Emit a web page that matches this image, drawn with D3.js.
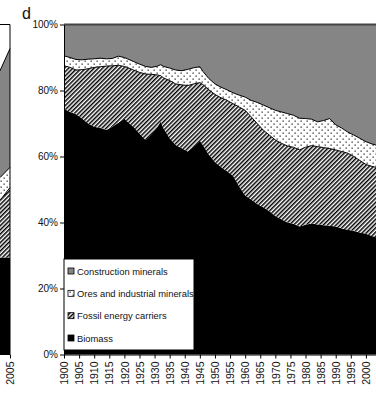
<!DOCTYPE html>
<html>
<head>
<meta charset="UTF-8">
<title>Material use shares</title>
<script src="https://d3js.org/d3.v7.min.js"></script>
<style>
    body { margin: 0; padding: 0; background: #fff; }
    svg { display: block; font-family: "Liberation Sans", Arial, sans-serif; }
</style>
</head>
<body>
<svg id="chart" width="376" height="394"></svg>
<script>
// panel d: shares of total material extraction (%)
const years = [1900, 1902, 1904, 1906, 1908, 1910, 1912, 1914, 1916, 1918, 1920, 1921, 1923, 1925, 1927, 1929,
    1931, 1932, 1933, 1935, 1937, 1939, 1941, 1943, 1945, 1946, 1948, 1950, 1952, 1954, 1956, 1958, 1960, 1962,
    1964, 1966, 1968, 1970, 1972, 1974, 1976, 1978, 1980, 1982, 1984, 1986, 1988, 1990, 1992, 1994, 1996, 1998,
    2000, 2002, 2004, 2005];
const biomass = [74.5, 73.5, 72.8, 71.5, 70.0, 69.0, 68.6, 68.0, 69.0, 70.2, 71.5, 70.5, 69.0, 67.0, 65.0, 66.8,
    69.0, 70.5, 68.5, 65.5, 63.5, 62.5, 61.5, 63.0, 64.8, 63.5, 60.5, 58.3, 56.8, 55.5, 54.2, 51.0, 48.2, 47.0,
    45.6, 44.6, 43.4, 42.0, 41.0, 40.0, 39.6, 38.8, 39.3, 39.7, 39.4, 39.2, 39.0, 38.8, 38.2, 37.8, 37.4, 37.0,
    36.6, 35.9, 35.4, 35.2];
const fossil = [13.0, 13.5, 13.4, 14.8, 16.6, 18.0, 18.6, 19.4, 18.5, 17.4, 15.8, 16.5, 17.2, 18.5, 20.0, 18.1,
    15.7, 14.0, 15.3, 17.5, 18.5, 19.2, 20.0, 19.0, 17.6, 18.3, 19.7, 20.5, 21.0, 21.5, 21.8, 24.0, 25.8, 25.0,
    24.4, 23.4, 23.1, 23.0, 23.0, 23.2, 23.2, 23.2, 23.5, 23.6, 23.6, 23.5, 23.4, 23.2, 23.3, 23.2, 22.6, 21.8,
    21.0, 21.1, 21.2, 21.2];
const ores = [3.0, 3.0, 3.2, 3.0, 2.9, 2.6, 2.6, 2.2, 2.2, 2.8, 2.7, 2.6, 2.6, 2.5, 2.3, 2.1,
    2.7, 3.3, 3.5, 3.8, 4.2, 4.3, 4.9, 4.9, 4.8, 4.0, 3.4, 3.2, 3.2, 3.2, 3.3, 3.6, 4.0, 5.0,
    6.4, 7.6, 8.3, 9.0, 9.5, 9.8, 9.7, 9.6, 8.7, 8.0, 7.5, 8.2, 9.1, 7.6, 7.1, 6.4, 6.5, 6.7,
    6.9, 6.8, 6.7, 6.6];
const construction = [9.5, 10.0, 10.6, 10.7, 10.5, 10.4, 10.2, 10.4, 10.3, 9.6, 10.0, 10.4, 11.2, 12.0, 12.7, 13.0,
    12.6, 12.2, 12.7, 13.2, 13.8, 14.0, 13.6, 13.1, 12.8, 14.2, 16.4, 18.0, 19.0, 19.8, 20.7, 21.4, 22.0, 23.0,
    23.6, 24.4, 25.2, 26.0, 26.5, 27.0, 27.5, 28.4, 28.5, 28.7, 29.5, 29.1, 28.5, 30.4, 31.4, 32.6, 33.5, 34.5,
    35.5, 36.2, 36.7, 37.0];

// edge of panel c, cut off on the left
const cYears = [2003, 2004, 2005];
const cBiomass = [29.2, 29.4, 29.4];
const cFossil = [15.8, 17.3, 21.2];
const cOres = [7.0, 6.9, 6.1];
const cConstruction = [31.0, 32.4, 36.0];

const keys = ["biomass", "fossil", "ores", "construction"];
const legendLabels = ["Construction minerals", "Ores and industrial minerals", "Fossil energy carriers", "Biomass"];
const yTicks = [0, 20, 40, 60, 80, 100];
const xTicks = d3.range(1900, 2001, 5);

const svg = d3.select("#chart");
const defs = svg.append("defs");

const hatch = defs.append("pattern")
    .attr("id", "hatch")
    .attr("patternUnits", "userSpaceOnUse")
    .attr("width", 3).attr("height", 3)
    .attr("patternTransform", "rotate(45)");
hatch.append("rect").attr("width", 3).attr("height", 3).attr("fill", "#fff");
hatch.append("rect").attr("width", 1.5).attr("height", 3).attr("fill", "#000");

const dots = defs.append("pattern")
    .attr("id", "dots")
    .attr("patternUnits", "userSpaceOnUse")
    .attr("width", 6).attr("height", 6);
dots.append("rect").attr("width", 6).attr("height", 6).attr("fill", "#fff");
dots.append("rect").attr("x", 0.5).attr("y", 0.5).attr("width", 1.3).attr("height", 1.3).attr("fill", "#333");
dots.append("rect").attr("x", 3.5).attr("y", 3.5).attr("width", 1.3).attr("height", 1.3).attr("fill", "#333");

const fills = { biomass: "#000", fossil: "url(#hatch)", ores: "url(#dots)", construction: "#858585" };

const plotTop = 24.5, plotBottom = 354.5, plotLeft = 64;

const x = d3.scaleLinear().domain([1900, 2005]).range([plotLeft, 381]);
const y = d3.scaleLinear().domain([0, 100]).range([plotBottom, plotTop]);

const rows = years.map((yr, i) => ({
    year: yr, biomass: biomass[i], fossil: fossil[i], ores: ores[i], construction: construction[i]
}));
const stacked = d3.stack().keys(keys)(rows);

const area = d3.area()
    .x(d => x(d.data.year))
    .y0(d => y(d[0]))
    .y1(d => y(d[1]));
const edge = d3.line()
    .x(d => x(d.data.year))
    .y(d => y(d[1]));

svg.append("g").selectAll("path")
    .data(stacked)
    .join("path")
    .attr("d", area)
    .attr("fill", s => fills[s.key]);

svg.append("g").selectAll("path")
    .data(stacked.filter(s => s.key === "fossil" || s.key === "ores"))
    .join("path")
    .attr("d", edge)
    .attr("fill", "none")
    .attr("stroke", "#000")
    .attr("stroke-width", 1);

// top border of the 100% band
svg.append("line")
    .attr("x1", plotLeft).attr("x2", 376)
    .attr("y1", y(100)).attr("y2", y(100))
    .attr("stroke", "#444").attr("stroke-width", 2);

// axes
const yAxis = svg.append("g")
    .attr("transform", `translate(${plotLeft},0)`)
    .call(d3.axisLeft(y).tickValues(yTicks).tickFormat(d => d + "%").tickSize(4).tickSizeOuter(0));
yAxis.select(".domain").attr("stroke", "#000");
yAxis.selectAll("text").attr("font-size", 10).attr("font-family", "Liberation Sans, Arial, sans-serif").attr("fill", "#111").attr("x", -6);

const xAxis = svg.append("g")
    .attr("transform", `translate(0,${plotBottom})`)
    .call(d3.axisBottom(x).tickValues(xTicks).tickFormat(d3.format("d")).tickSize(4).tickSizeOuter(0));
xAxis.select(".domain").attr("stroke", "#000");
xAxis.selectAll("text")
    .attr("font-size", 10.5)
    .attr("font-family", "Liberation Sans, Arial, sans-serif")
    .attr("fill", "#111")
    .attr("transform", "rotate(-90)")
    .attr("text-anchor", "end")
    .attr("x", -7)
    .attr("y", 0)
    .attr("dy", "0.35em");

// legend
const legend = svg.append("g");
legend.append("rect")
    .attr("x", plotLeft).attr("y", 259)
    .attr("width", 130).attr("height", 91)
    .attr("fill", "#fff").attr("stroke", "#000").attr("stroke-width", 1);
const legendFills = [fills.construction, fills.ores, fills.fossil, fills.biomass];
const ly = d3.scalePoint().domain(legendLabels).range([271, 338]);
legend.selectAll("rect.sw")
    .data(legendLabels)
    .join("rect")
    .attr("class", "sw")
    .attr("x", 68).attr("y", d => ly(d) - 3)
    .attr("width", 6).attr("height", 6)
    .attr("fill", (d, i) => legendFills[i])
    .attr("stroke", "#000").attr("stroke-width", 0.8);
legend.selectAll("text")
    .data(legendLabels)
    .join("text")
    .attr("x", 77).attr("y", d => ly(d) + 3.5)
    .attr("font-size", 9.4)
    .attr("fill", "#111")
    .text(d => d);

// panel label
svg.append("text")
    .attr("x", 22).attr("y", 19)
    .attr("font-size", 16)
    .attr("fill", "#111")
    .text("d");

// cut-off panel c on the left
const cx = d3.scaleLinear().domain([2003, 2005]).range([-10, 10]);
const cRows = cYears.map((yr, i) => ({
    year: yr, biomass: cBiomass[i], fossil: cFossil[i], ores: cOres[i], construction: cConstruction[i]
}));
const cStacked = d3.stack().keys(keys)(cRows);
const cArea = d3.area().x(d => cx(d.data.year)).y0(d => y(d[0])).y1(d => y(d[1]));
const cEdge = d3.line().x(d => cx(d.data.year)).y(d => y(d[1]));
svg.append("g").selectAll("path")
    .data(cStacked)
    .join("path")
    .attr("d", cArea)
    .attr("fill", s => fills[s.key]);
svg.append("g").selectAll("path")
    .data(cStacked.filter(s => s.key !== "biomass"))
    .join("path")
    .attr("d", cEdge)
    .attr("fill", "none")
    .attr("stroke", "#000")
    .attr("stroke-width", 1);
svg.append("path")
    .attr("d", `M0,${plotTop}H${cx(2005)}V${plotBottom}H0`)
    .attr("fill", "none").attr("stroke", "#000").attr("stroke-width", 1);
const cAxis = svg.append("g")
    .attr("transform", `translate(0,${plotBottom})`)
    .call(d3.axisBottom(cx).tickValues([2005]).tickFormat(d3.format("d")).tickSize(4).tickSizeOuter(0));
cAxis.select(".domain").remove();
cAxis.selectAll("text")
    .attr("font-size", 10.5)
    .attr("font-family", "Liberation Sans, Arial, sans-serif")
    .attr("fill", "#111")
    .attr("transform", "rotate(-90)")
    .attr("text-anchor", "end")
    .attr("x", -7)
    .attr("y", 0)
    .attr("dy", "0.35em");
</script>
</body>
</html>
